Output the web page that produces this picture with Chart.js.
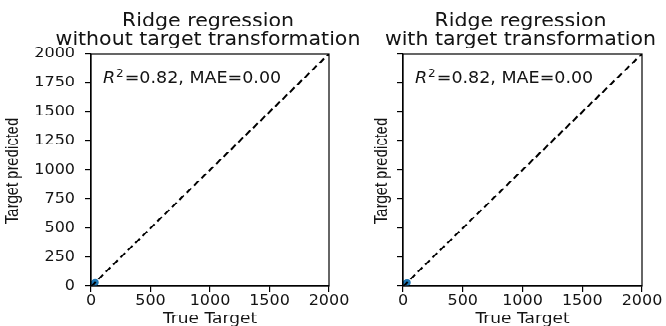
<!DOCTYPE html>
<html>
<head>
<meta charset="utf-8">
<script src="https://cdn.jsdelivr.net/npm/chart.js@4.4.1/dist/chart.umd.min.js"></script>
<style>
  html, body { margin: 0; padding: 0; background: #ffffff; overflow: hidden; }
  #stage { position: relative; width: 666px; height: 370px; transform: scaleY(0.881); transform-origin: 0 0; }
  #stage canvas { position: absolute; left: 0; top: 0; }
</style>
</head>
<body>
<div id="stage">
  <canvas id="c0" width="666" height="370"></canvas>
  <canvas id="c1" width="666" height="370"></canvas>
</div>
<script>
// ---- data ----
const panelTitles = [
  ["Ridge regression", "without target transformation"],
  ["Ridge regression", "with target transformation"]
];
const xTickValues = [0, 500, 1000, 1500, 2000];
const yTickValues = [0, 250, 500, 750, 1000, 1250, 1500, 1750, 2000];
const trueTarget   = [3, 6, 9, 12, 15, 18, 22, 26, 30, 35];
const predNoTrans  = [4, 5, 10, 11, 16, 17, 21, 27, 29, 36];
const predWithTrans = [3, 6, 9, 12, 15, 18, 22, 26, 30, 35];
const identityX = [0, 2000];
const identityY = [0, 2000];
const r2Scores  = [0.82, 0.82];
const maeScores = [0.00, 0.00];
const annotationAt = [100, 1750];
const xLabel = "True Target";
const yLabel = "Target predicted";

Chart.defaults.font.family = "'DejaVu Sans'";
const TXT = '#141414';

const decorPlugin = {
  id: 'decor',
  afterDraw(chart, args, opts) {
    const { ctx, chartArea: a, scales } = chart;
    ctx.save();
    ctx.strokeStyle = '#000';
    ctx.lineWidth = 1.2;
    ctx.strokeRect(a.left, a.top, a.right - a.left, a.bottom - a.top);
    // panel title
    ctx.fillStyle = TXT;
    ctx.font = "20.5px 'DejaVu Sans'";
    ctx.textAlign = 'center';
    ctx.textBaseline = 'alphabetic';
    const cx = (a.left + a.right) / 2 - 2;
    opts.title.forEach((line, i) => ctx.fillText(line, cx, 29.5 + i * 21));
    // y axis label (condensed sans, rotated)
    ctx.save();
    ctx.translate(opts.yLabelBaseline, (a.top + a.bottom) / 2 + 1);
    ctx.rotate(-Math.PI / 2);
    ctx.scale(0.915, 1);
    ctx.font = "18.4px 'Liberation Sans'";
    ctx.textAlign = 'center';
    ctx.textBaseline = 'alphabetic';
    ctx.fillText(yLabel, 0, 0);
    ctx.restore();
    // annotation
    let x = scales.x.getPixelForValue(annotationAt[0]);
    const y = scales.y.getPixelForValue(annotationAt[1]);
    ctx.textAlign = 'left';
    ctx.font = "italic 17.5px 'DejaVu Sans'";
    ctx.fillText('R', x, y);
    x += ctx.measureText('R').width + 1;
    ctx.font = "12px 'DejaVu Sans'";
    ctx.fillText('2', x, y - 7);
    x += ctx.measureText('2').width + 1;
    ctx.font = "17.5px 'DejaVu Sans'";
    ctx.fillText('=' + opts.r2.toFixed(2) + ', MAE=' + opts.mae.toFixed(2), x, y);
    ctx.restore();
  }
};

function makePanel(id, idx, preds, geom) {
  return new Chart(document.getElementById(id), {
    type: 'scatter',
    data: {
      datasets: [
        {
          data: trueTarget.map((v, i) => ({ x: v, y: preds[i] })),
          backgroundColor: '#1f77b4',
          borderColor: '#1f77b4',
          borderWidth: 0,
          pointRadius: 3.5,
          clip: 0,
          order: 2
        },
        {
          type: 'line',
          data: identityX.map((v, i) => ({ x: v, y: identityY[i] })),
          borderColor: '#000',
          borderWidth: 2,
          borderDash: [7, 4],
          pointRadius: 0,
          fill: false,
          order: 1
        }
      ]
    },
    options: {
      responsive: false,
      animation: false,
      devicePixelRatio: 1,
      layout: { padding: { left: geom.padLeft, right: geom.padRight, top: 61, bottom: 0 } },
      plugins: {
        legend: { display: false },
        tooltip: { enabled: false },
        decor: { title: panelTitles[idx], r2: r2Scores[idx], mae: maeScores[idx], yLabelBaseline: geom.yLabelBaseline }
      },
      scales: {
        x: {
          type: 'linear', min: 0, max: 2000,
          afterBuildTicks: s => { s.ticks = xTickValues.map(v => ({ value: v })); },
          afterFit: s => { s.height = 45; },
          ticks: { color: TXT, font: { size: 16 }, padding: 1, maxRotation: 0, autoSkip: false,
                   callback: v => String(v) },
          grid: { drawOnChartArea: false, drawTicks: true, tickLength: 6, color: '#000', lineWidth: 1.2 },
          border: { display: true, color: '#000', width: 1.2 },
          title: { display: true, text: xLabel, color: TXT, font: { size: 17, lineHeight: 1 }, padding: { top: 0, bottom: -1 } }
        },
        y: {
          type: 'linear', min: 0, max: 2000,
          afterBuildTicks: s => { s.ticks = yTickValues.map(v => ({ value: v })); },
          afterFit: s => { s.width = geom.yWidth; },
          ticks: { display: geom.showYTicks, color: TXT, font: { size: 16 }, padding: 10,
                   callback: v => String(v) },
          grid: { drawOnChartArea: false, drawTicks: true, tickLength: 6, color: '#000', lineWidth: 1.2 },
          border: { display: true, color: '#000', width: 1.2 },
          title: { display: false, text: yLabel }
        }
      }
    },
    plugins: [decorPlugin]
  });
}

makePanel('c0', 0, predNoTrans,  { padLeft: 0,   padRight: 337, yWidth: 91, yLabelBaseline: 17.5,  showYTicks: true });
makePanel('c1', 1, predWithTrans, { padLeft: 333, padRight: 24,  yWidth: 70, yLabelBaseline: 387, showYTicks: false });
</script>
</body>
</html>
